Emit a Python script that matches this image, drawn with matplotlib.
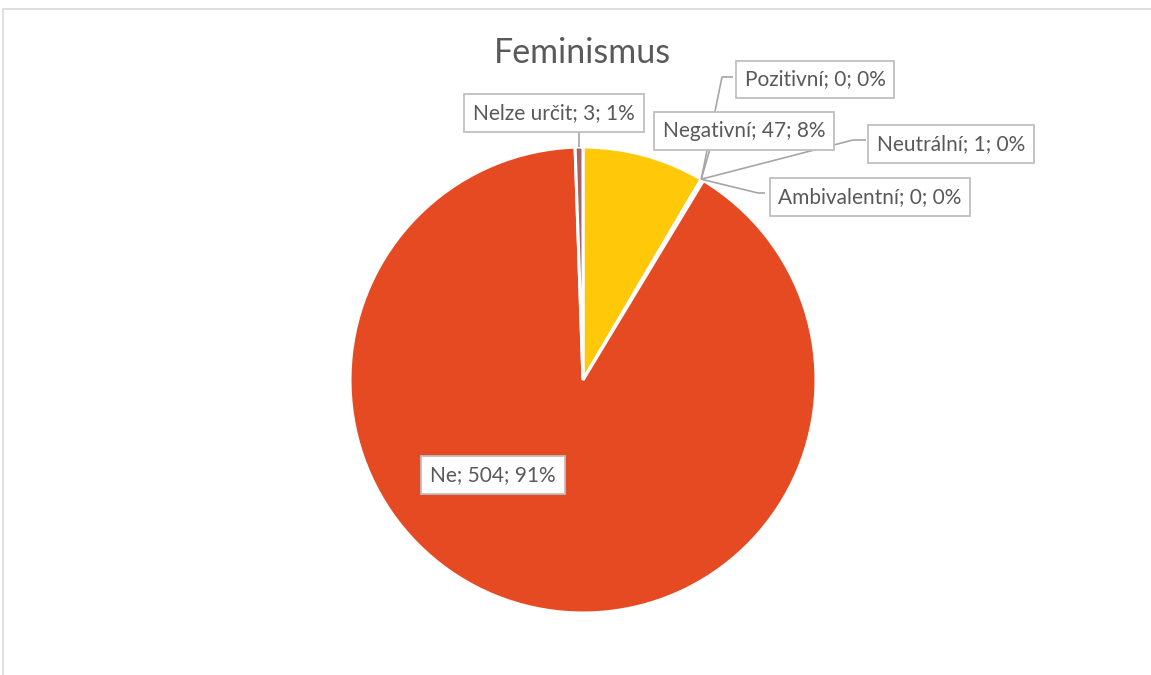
import matplotlib
matplotlib.use("Agg")
import matplotlib.pyplot as plt
from matplotlib.patches import Rectangle
import numpy as np

categories = ["Pozitivní", "Negativní", "Neutrální", "Ambivalentní", "Ne", "Nelze určit"]
values = [0, 47, 1, 0, 504, 3]
colors = ["#4472C4", "#FFC90A", "#A5A5A5", "#70AD47", "#E54A22", "#A0646A"]
title = "Feminismus"

W, H = 1151, 675
fig = plt.figure(figsize=(W / 100, H / 100), dpi=100)
plt.rcParams['font.family'] = ['Lato', 'DejaVu Sans']

# outer chart frame (extends past the right/bottom edges)
fig.patches.append(Rectangle((3 / W, -0.1), 1.2, 1.1 - 9 / H, transform=fig.transFigure,
                             fill=False, edgecolor="#D9D9D9", linewidth=1.2, zorder=0))

cx, cy, R = 583, 380, 233
ax = fig.add_axes([(cx - R) / W, (H - cy - R) / H, 2 * R / W, 2 * R / H])
wedges, _ = ax.pie(values, colors=colors, startangle=90, counterclock=False, radius=1,
                   wedgeprops=dict(edgecolor="white", linewidth=2.2))
ax.set_xlim(-1, 1)
ax.set_ylim(-1, 1)
ax.set_aspect("equal")
ax.axis("off")


def d(px, py):
    return ((px - cx) / R, (cy - py) / R)


total = sum(values)
labels = [f"{c}; {v}; {round(v / total * 100):.0f}%" for c, v in zip(categories, values)]

# anchor at the end of the Negativní wedge
th = np.deg2rad(wedges[1].theta1)
anchor = (np.cos(th), np.sin(th))
thn = np.deg2rad((wedges[5].theta1 + wedges[5].theta2) / 2)
anchor_n = (np.cos(thn), np.sin(thn))

# box centers (pixel) and leader paths
box_pos = {
    "Pozitivní": (815, 79.5),
    "Negativní": (744, 131),
    "Neutrální": (951, 144),
    "Ambivalentní": (870, 197),
    "Ne": (493, 475),
    "Nelze určit": (554, 113),
}
leaders = {
    "Pozitivní": [d(733, 77), d(722, 77)],
    "Negativní": [d(710, 149)],
    "Neutrální": [d(866, 140), d(853, 140)],
    "Ambivalentní": [d(765, 193), d(758, 193)],
    "Nelze určit": [(anchor_n[0], d(0, 132)[1])],
}
line_col = "#A6A6A6"
for cat, pts in leaders.items():
    end = anchor_n if cat == "Nelze určit" else anchor
    xs = [p[0] for p in pts] + [end[0]]
    ys = [p[1] for p in pts] + [end[1]]
    ax.plot(xs, ys, color=line_col, lw=1.2, zorder=3, clip_on=False, solid_capstyle="butt")

for cat, lab in zip(categories, labels):
    px, py = box_pos[cat]
    x, y = d(px, py)
    ax.text(x, y, lab, ha="center", va="center", fontsize=15, color="#595959", zorder=5,
            bbox=dict(boxstyle="square,pad=0.42", facecolor="white", edgecolor="#BFBFBF", linewidth=1.3))

fig.text(582 / W, 1 - 53 / H, title, ha="center", va="center", fontsize=24.5, color="#595959")

fig.savefig("out.png", dpi=100)
